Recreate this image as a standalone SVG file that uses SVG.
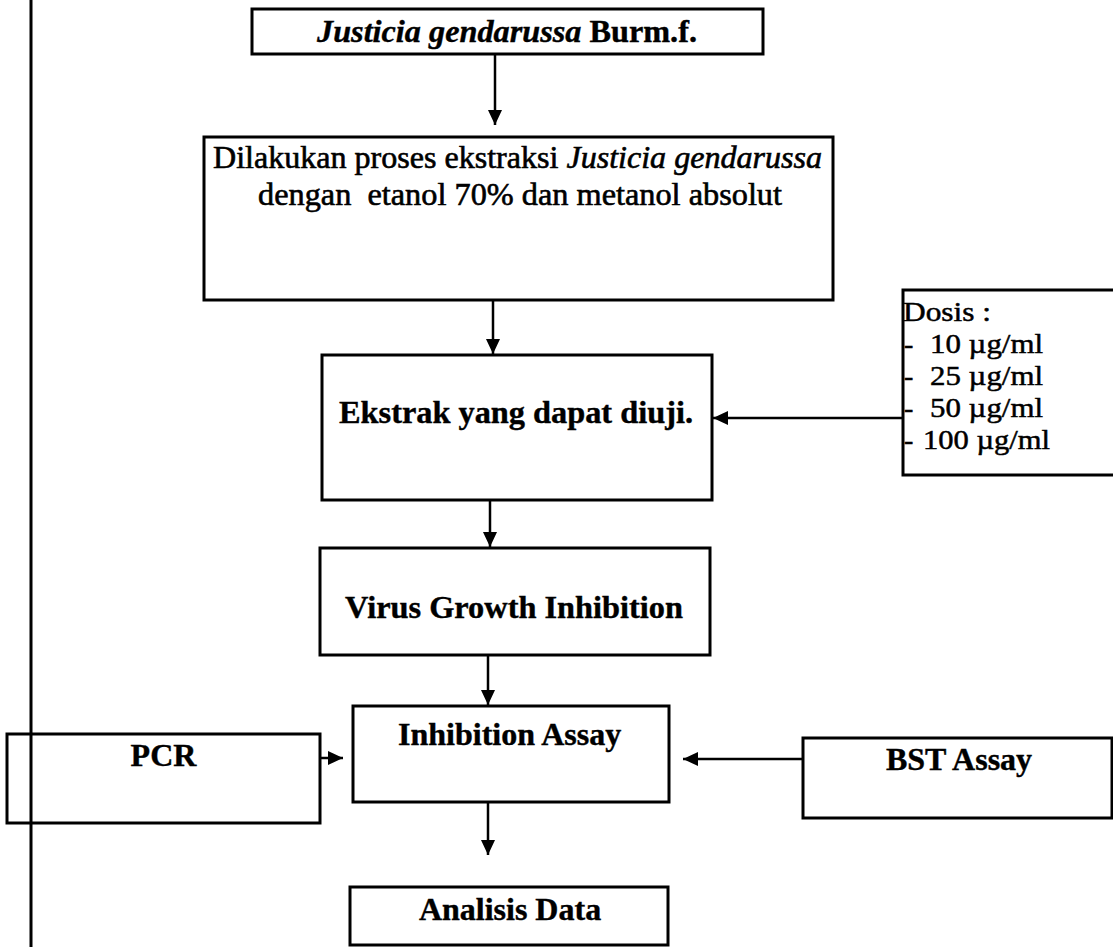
<svg xmlns="http://www.w3.org/2000/svg" width="1113" height="947" viewBox="0 0 1113 947">
<style>
.box{fill:#fff;stroke:#000;stroke-width:3}
.con{stroke:#000;stroke-width:2.5;fill:none}
.t{font-family:"Liberation Serif","Times New Roman",serif;fill:#000}
.b{font-weight:bold;font-size:32px;stroke:#000;stroke-width:0.4}
.r{font-size:31px;stroke:#000;stroke-width:0.6}
.d{font-size:28px;stroke:#000;stroke-width:0.5}
.i{font-style:italic}
</style>
<defs>
<marker id="ah" markerUnits="userSpaceOnUse" markerWidth="16" markerHeight="16" refX="15" refY="8" orient="auto">
<path d="M0,1 L15,8 L0,15 z" fill="#000"/>
</marker>
</defs>
<rect width="1113" height="947" fill="#fff"/>
<line x1="31" y1="0" x2="31" y2="947" stroke="#000" stroke-width="3"/>
<g id="connectors">
<line class="con" x1="495" y1="54" x2="495" y2="125" marker-end="url(#ah)"/>
<line class="con" x1="493" y1="300" x2="493" y2="354" marker-end="url(#ah)"/>
<line class="con" x1="903" y1="418" x2="713" y2="418" marker-end="url(#ah)"/>
<line class="con" x1="490" y1="500" x2="490" y2="547" marker-end="url(#ah)"/>
<line class="con" x1="488" y1="655" x2="488" y2="705" marker-end="url(#ah)"/>
<line class="con" x1="320" y1="758" x2="343" y2="758" marker-end="url(#ah)"/>
<line class="con" x1="803" y1="759" x2="683" y2="759" marker-end="url(#ah)"/>
<line class="con" x1="488" y1="802" x2="488" y2="855" marker-end="url(#ah)"/>
</g>
<g id="n1">
<rect class="box" x="252" y="9" width="511" height="45"/>
<text class="t b" x="317" y="42" textLength="380" lengthAdjust="spacingAndGlyphs"><tspan class="i">Justicia gendarussa</tspan> Burm.f.</text>
</g>
<g id="n2">
<rect class="box" x="204" y="137" width="629" height="163"/>
<text class="t r" x="213" y="168" textLength="609" lengthAdjust="spacingAndGlyphs">Dilakukan proses ekstraksi <tspan class="i">Justicia gendarussa</tspan></text>
<text class="t r" x="258" y="205" textLength="524" lengthAdjust="spacingAndGlyphs" xml:space="preserve">dengan  etanol 70% dan metanol absolut</text>
</g>
<g id="n3">
<rect class="box" x="322" y="355" width="390" height="145"/>
<text class="t b" x="339" y="423" textLength="354" lengthAdjust="spacingAndGlyphs">Ekstrak yang dapat diuji.</text>
</g>
<g id="n-dosis">
<rect class="box" x="903" y="290" width="240" height="185"/>
<text class="t d" x="903" y="321" textLength="88" lengthAdjust="spacingAndGlyphs">Dosis :</text>
<text class="t d" x="904" y="353">-<tspan x="930" textLength="113" lengthAdjust="spacingAndGlyphs">10 µg/ml</tspan></text>
<text class="t d" x="904" y="385">-<tspan x="930" textLength="113" lengthAdjust="spacingAndGlyphs">25 µg/ml</tspan></text>
<text class="t d" x="904" y="417">-<tspan x="930" textLength="113" lengthAdjust="spacingAndGlyphs">50 µg/ml</tspan></text>
<text class="t d" x="904" y="449">-<tspan x="923" textLength="127" lengthAdjust="spacingAndGlyphs">100 µg/ml</tspan></text>
</g>
<g id="n4">
<rect class="box" x="320" y="548" width="390" height="107"/>
<text class="t b" x="345" y="618" textLength="338" lengthAdjust="spacingAndGlyphs">Virus Growth Inhibition</text>
</g>
<g id="n5">
<rect class="box" x="353" y="706" width="316" height="96"/>
<text class="t b" x="398" y="745">Inhibition Assay</text>
</g>
<g id="n-pcr">
<rect class="box" x="7" y="734" width="313" height="89" style="fill:none"/>
<text class="t b" x="163.5" y="766" text-anchor="middle">PCR</text>
</g>
<g id="n-bst">
<rect class="box" x="803" y="738" width="309" height="80"/>
<text class="t b" x="959" y="770" text-anchor="middle">BST Assay</text>
</g>
<g id="n6">
<rect class="box" x="350" y="887" width="318" height="58"/>
<text class="t b" x="510" y="920" text-anchor="middle">Analisis Data</text>
</g>
</svg>
